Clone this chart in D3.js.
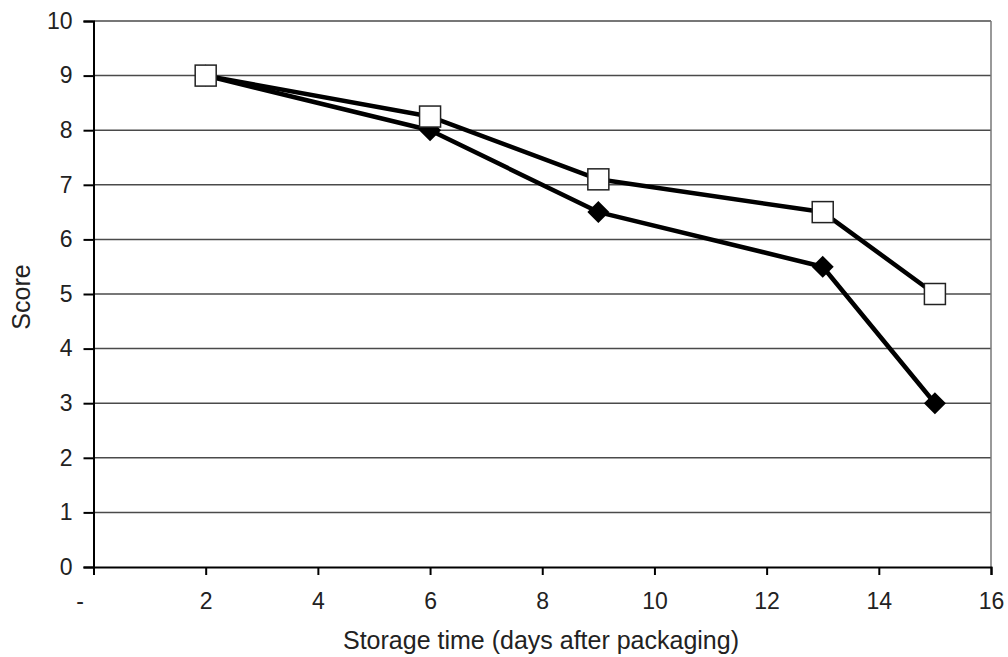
<!DOCTYPE html>
<html>
<head>
<meta charset="utf-8">
<script src="https://cdn.jsdelivr.net/npm/d3@7"></script>
<style>
  html, body { margin: 0; padding: 0; background: #fff; }
  svg { display: block; font-family: "Liberation Sans", Arial, sans-serif; }
</style>
</head>
<body>
<svg id="chart" width="1008" height="657"></svg>
<script>
const days = [2, 6, 9, 13, 15];
const seriesOpen = [9, 8.25, 7.1, 6.5, 5];     // open squares
const seriesFilled = [9, 8, 6.5, 5.5, 3];      // filled diamonds
const xTicks = [0, 2, 4, 6, 8, 10, 12, 14, 16];
const yTicks = [0, 1, 2, 3, 4, 5, 6, 7, 8, 9, 10];
const xTitle = "Storage time (days after packaging)";
const yTitle = "Score";

(function () {
const svg = d3.select("#chart");
const mLeft = 93.5, mRight = 991, mTop = 21, mBottom = 567;

const x = d3.scaleLinear().domain([0, 16]).range([mLeft, mRight]);
const y = d3.scaleLinear().domain([0, 10]).range([mBottom, mTop]);

// gridlines
svg.append("g").selectAll("line").data(yTicks.filter(d => d > 0)).join("line")
  .attr("x1", mLeft).attr("x2", mRight)
  .attr("y1", d => y(d)).attr("y2", d => y(d))
  .attr("stroke", "#4a4a4a").attr("stroke-width", 1.5);

// right border
svg.append("line").attr("x1", mRight).attr("x2", mRight).attr("y1", y(10)).attr("y2", y(0))
  .attr("stroke", "#777").attr("stroke-width", 1.5);

// x axis
const xAxis = svg.append("g").attr("transform", `translate(0,${mBottom})`)
  .call(d3.axisBottom(x).tickValues(xTicks).tickSize(8).tickPadding(18)
    .tickFormat(d => d === 0 ? "-" : d));
xAxis.select(".domain").attr("stroke", "#000").attr("stroke-width", 2);
xAxis.selectAll(".tick line").attr("stroke", "#000").attr("stroke-width", 2);
xAxis.selectAll(".tick text").attr("font-size", 23).attr("fill", "#222")
  .attr("font-family", "Liberation Sans, Arial, sans-serif")
  .attr("dx", d => d === 0 ? -14 : 0);

// y axis
const yAxis = svg.append("g").attr("transform", `translate(${mLeft},0)`)
  .call(d3.axisLeft(y).tickValues(yTicks).tickSize(10).tickPadding(11));
yAxis.select(".domain").attr("stroke", "#000").attr("stroke-width", 2);
yAxis.selectAll(".tick line").attr("stroke", "#000").attr("stroke-width", 2);
yAxis.selectAll(".tick text").attr("font-size", 23).attr("fill", "#222")
  .attr("font-family", "Liberation Sans, Arial, sans-serif");

// titles
svg.append("text").attr("x", 541).attr("y", 649)
  .attr("text-anchor", "middle").attr("font-size", 25).attr("fill", "#222").text(xTitle);
svg.append("text").attr("transform", `translate(30,297) rotate(-90)`)
  .attr("text-anchor", "middle").attr("font-size", 25).attr("fill", "#222").text(yTitle);

const line = d3.line().x(d => x(d[0])).y(d => y(d[1]));
const dataFilled = days.map((d, i) => [d, seriesFilled[i]]);
const dataOpen = days.map((d, i) => [d, seriesOpen[i]]);

// filled series
svg.append("path").datum(dataFilled).attr("d", line)
  .attr("fill", "none").attr("stroke", "#000").attr("stroke-width", 4.5).attr("stroke-linejoin", "round");
svg.append("g").selectAll("path").data(dataFilled).join("path")
  .attr("transform", d => `translate(${x(d[0])},${y(d[1])})`)
  .attr("d", "M0,-11L11,0L0,11L-11,0Z").attr("fill", "#000");

// open series
svg.append("path").datum(dataOpen).attr("d", line)
  .attr("fill", "none").attr("stroke", "#000").attr("stroke-width", 4.5).attr("stroke-linejoin", "round");
svg.append("g").selectAll("rect").data(dataOpen).join("rect")
  .attr("x", d => x(d[0]) - 10.5).attr("y", d => y(d[1]) - 10.5)
  .attr("width", 21).attr("height", 21)
  .attr("fill", "#fff").attr("stroke", "#222").attr("stroke-width", 1.5);
})();
</script>
</body>
</html>
